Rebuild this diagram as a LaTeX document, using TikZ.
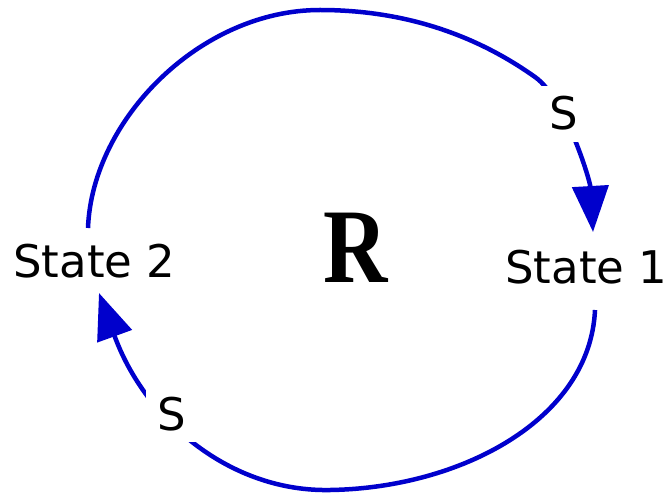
\documentclass[tikz,border=0pt]{standalone}
\usepackage{fontspec}
\setmainfont{DejaVu Sans}
\newfontfamily\rfont{Liberation Serif}
\usetikzlibrary{arrows.meta}
\definecolor{loopblue}{RGB}{0,0,204}
\begin{document}
\begin{tikzpicture}[x=1pt,y=-1pt,
  link/.style={draw=loopblue,line width=4.5pt},
  tipped/.style={-{Triangle[length=46pt,width=36pt]}},
  lbl/.style={font=\fontsize{45}{45}\selectfont, inner sep=0pt},
  pol/.style={font=\fontsize{45}{45}\selectfont, fill=white, inner sep=11pt}]
\useasboundingbox[fill=white] (0,0) rectangle (668,494);
\node[lbl,anchor=base west] (s2) at (13,277) {State 2};
\node[lbl,anchor=base west] (s1) at (505,283) {State 1};
\node[font=\rfont\bfseries\fontsize{106}{106}\selectfont, anchor=base, inner sep=0pt] (r) at (356,282) {\scalebox{0.84}[1]{R}};
\coordinate (a1) at (88,228);
\coordinate (a2) at (593,232);
\coordinate (b1) at (595,310);
\coordinate (b2) at (99,293);
\draw[link,tipped] (a1) .. controls (92,120) and (200,10) .. (320,10)
  .. controls (420,10) and (490,45) .. (535,77)
  .. controls (565,98) and (590,180) .. (a2);
\draw[link,tipped] (b1) .. controls (590,420) and (460,488) .. (330,490)
  .. controls (230,492) and (145,420) .. (b2);
\node[pol,anchor=base west] (p1) at (538,130) {S};
\node[pol,anchor=base west] (p2) at (146,430) {S};
\end{tikzpicture}
\end{document}
